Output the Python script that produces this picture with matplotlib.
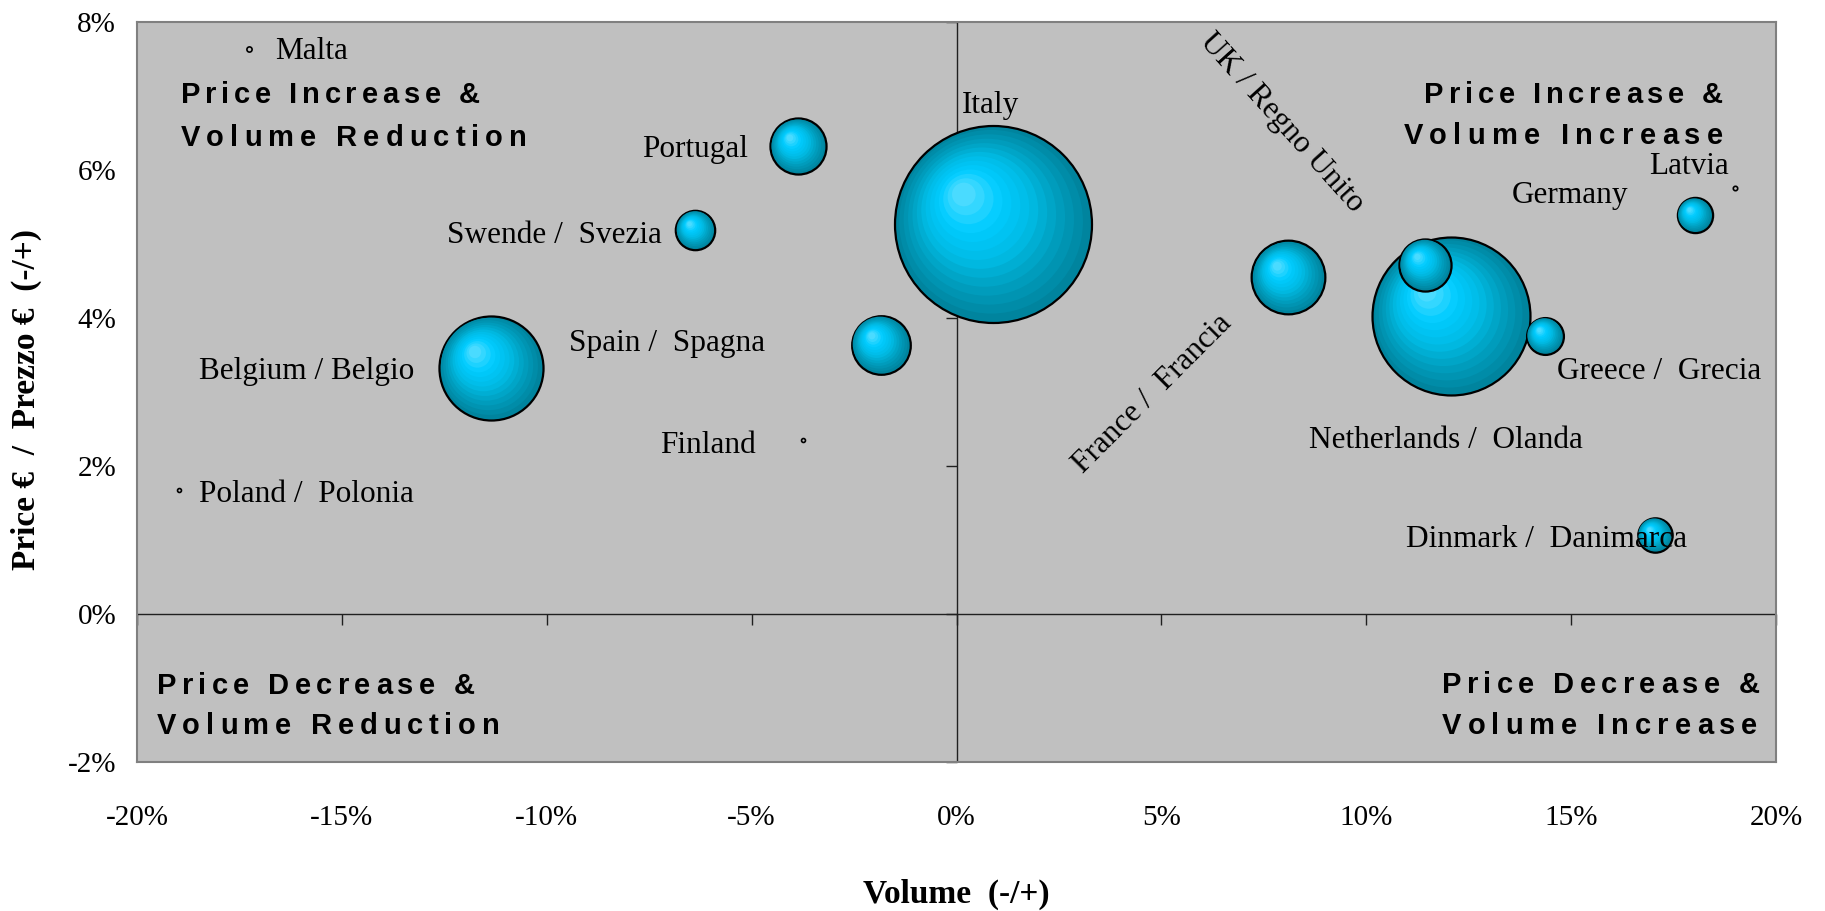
import numpy as np
import matplotlib
matplotlib.use('Agg')
import matplotlib.pyplot as plt
from matplotlib import transforms
from matplotlib.colors import LinearSegmentedColormap
from matplotlib.font_manager import FontProperties, findfont
from matplotlib.ft2font import FT2Font

# volume / price change (%), bubble size = market weight
countries = ['Italy', 'Netherlands', 'Belgium', 'France', 'Spain', 'Portugal', 'UK', 'Sweden',
             'Greece', 'Germany', 'Denmark', 'Malta', 'Latvia', 'Poland', 'Finland']
volume = [0.9, 12.06, -11.37, 8.10, -1.85, -3.86, 11.44, -6.37, 14.36, 18.02, 17.04, -17.27, 19.01, -18.98, -3.75]
price = [5.27, 4.03, 3.33, 4.55, 3.64, 6.32, 4.72, 5.19, 3.76, 5.39, 1.07, 7.64, 5.76, 1.68, 2.35]
weight = [100, 64.3, 27.9, 14.0, 8.85, 8.1, 7.0, 4.0, 3.5, 3.2, 3.05, 0.07, 0.05, 0.04, 0.04]

labels = ['Italy', 'Netherlands /  Olanda', 'Belgium / Belgio', 'France /  Francia', 'Spain /  Spagna',
          'Portugal', 'UK / Regno Unito', 'Swende /  Svezia', 'Greece /  Grecia', 'Germany', 'Dinmark /  Danimarca',
          'Malta', 'Latvia', 'Poland /  Polonia', 'Finland']

xticks = [-20, -15, -10, -5, 0, 5, 10, 15, 20]
yticks = [-2, 0, 2, 4, 6, 8]

# label anchors (data coords), rotation
label_pos = {
    'Italy': (0.12, 6.77, 0), 'Netherlands': (8.61, 2.25, 0), 'Belgium': (-18.49, 3.18, 0),
    'France': (4.78, 2.98, 45), 'Spain': (-9.46, 3.56, 0), 'Portugal': (-7.68, 6.17, 0),
    'UK': (7.95, 6.64, -48), 'Sweden': (-12.44, 5.02, 0), 'Greece': (14.66, 3.18, 0),
    'Germany': (13.56, 5.55, 0), 'Denmark': (10.98, 0.91, 0), 'Malta': (-16.63, 7.50, 0),
    'Latvia': (16.90, 5.95, 0), 'Poland': (-18.49, 1.52, 0), 'Finland': (-7.24, 2.17, 0),
}

DPI = 100
R_MAX = 98.5  # radius in px of the largest bubble
SERIF = 'Liberation Serif'
SANS = 'Liberation Sans'

fig = plt.figure(figsize=(18.25, 9.11), dpi=DPI)
ax = fig.add_axes([137 / 1825, 1 - 762 / 911, (1776 - 137) / 1825, (762 - 22) / 911])
ax.set_facecolor('#C0C0C0')
ax.set_xlim(-20, 20)
ax.set_ylim(-2, 8)
for sp in ax.spines.values():
    sp.set_color('#808080')
    sp.set_linewidth(1.5)

ax.set_xticks(xticks)
ax.set_xticklabels(['%d%%' % v for v in xticks], family=SERIF, fontsize=21)
ax.set_yticks(yticks)
ax.set_yticklabels(['%d%%' % v for v in yticks], family=SERIF, fontsize=21)
ax.tick_params(axis='x', length=0, pad=31)
ax.tick_params(axis='y', length=0, pad=15)

# axes crossing at zero with tick marks
ax.axhline(0, color='#202020', lw=1, zorder=2)
ax.axvline(0, color='#202020', lw=1, zorder=2)
ax.plot(xticks, np.zeros(len(xticks)), ls='none', marker=3, ms=8, mew=1, color='#202020', zorder=2, clip_on=False)
ax.plot(np.zeros(len(yticks)), yticks, ls='none', marker=0, ms=8, mew=1, color='#202020', zorder=2, clip_on=False)

# bubbles with a stepped radial shading
cmap = LinearSegmentedColormap.from_list('bub', ['#00849E', '#009EBE', '#00BCE6', '#00CCFF', '#4ADBFF'])
n_layers = 14
fr = np.linspace(1.0, 0.12, n_layers)
order = np.argsort(weight)[::-1]
for i in order:
    r_px = R_MAX * np.sqrt(weight[i] / 100.0)
    r_pt = r_px * 72.0 / DPI
    if r_px < 4:
        ax.scatter([volume[i]], [price[i]], s=(2 * r_pt) ** 2, facecolor='#C0C0C0',
                   edgecolors='black', linewidths=1.2, zorder=3)
        continue
    for k, f in enumerate(fr):
        off = (1 - f) / (1 - fr[-1]) * 0.3 * r_px
        tr = transforms.offset_copy(ax.transData, fig=fig, x=-off, y=off, units='dots')
        ax.scatter([volume[i]], [price[i]], s=(2 * f * r_pt) ** 2, color=cmap(k / (n_layers - 1)),
                   edgecolors='black' if k == 0 else 'none', linewidths=1.6 if k == 0 else 0,
                   transform=tr, zorder=3)

for name, lab in zip(countries, labels):
    lx, ly, rot = label_pos[name]
    if rot:
        ax.text(lx, ly, lab, rotation=rot, ha='center', va='center', family=SERIF, fontsize=22.5,
                rotation_mode='anchor', zorder=5)
    else:
        ax.text(lx, ly, lab, ha='left', va='baseline', family=SERIF, fontsize=22.5, zorder=5)


# quadrant captions, letter-spaced like the original
QFONT = FontProperties(family=SANS, weight='bold', size=21)
_ft = FT2Font(findfont(QFONT))
_ft.set_size(21, DPI)


def spaced(x, y, s, track=5.5, ha='left'):
    adv = []
    for ch in s:
        g = _ft.load_char(ord(ch))
        adv.append(g.linearHoriAdvance / 65536.0)
    total = sum(adv) + track * (len(s) - 1)
    pos = 0.0 if ha == 'left' else -total
    for ch, a in zip(s, adv):
        if ch != ' ':
            tr = transforms.offset_copy(ax.transData, fig=fig, x=pos, y=0, units='dots')
            ax.text(x, y, ch, transform=tr, ha='left', va='baseline', fontproperties=QFONT, zorder=5)
        pos += a + track


spaced(-18.93, 6.90, 'Price Increase &', track=4.8)
spaced(-18.93, 6.33, 'Volume Reduction', track=6.0)
spaced(18.71, 6.90, 'Price Increase &', track=4.8, ha='right')
spaced(18.71, 6.35, 'Volume Increase', track=6.3, ha='right')
spaced(-19.51, -1.08, 'Price Decrease &', track=5.3)
spaced(-19.51, -1.62, 'Volume Reduction', track=5.8)
spaced(11.85, -1.07, 'Price Decrease &', track=5.3)
spaced(11.85, -1.62, 'Volume Increase', track=6.0)

fig.text(956.5 / 1825, 1 - 894 / 911, 'Volume  (-/+)', ha='center', va='center',
         family=SERIF, fontsize=24, fontweight='bold')
fig.text(26 / 1825, 1 - 400 / 911, 'Price €  /  Prezzo €  (-/+)', ha='center', va='center', rotation=90,
         family=SERIF, fontsize=24, fontweight='bold')

fig.savefig('out.png', dpi=DPI, facecolor='white')
